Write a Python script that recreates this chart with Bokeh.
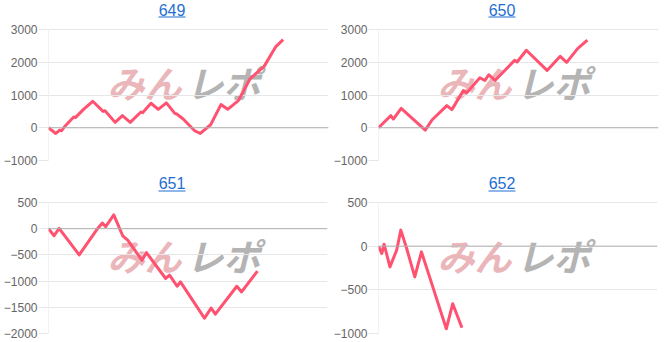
from bokeh.plotting import figure
from bokeh.layouts import column, row
from bokeh.models import Label, BoxAnnotation, Span, FixedTicker, Range1d
from bokeh.embed import file_html
from bokeh.resources import INLINE

titles = ["649", "650", "651", "652"]

x_649 = [0, 2.6, 4.0, 4.7, 5.7, 9.0, 9.6, 12.5, 15.8, 19.5, 20.2, 23.8, 26.4, 29.2, 33.0, 33.6,
         36.6, 39.2, 42.1, 45.1, 45.8, 48.1, 52.2, 54.2, 57.9, 61.6, 64.0, 67.8, 72.0, 77.0, 81.1, 83.8]
y_649 = [0, -174, -72, -92, 31, 330, 310, 560, 809, 500, 520, 164, 369, 164, 480, 460,
         748, 563, 758, 440, 420, 266, -92, -174, 92, 707, 563, 829, 1495, 1874, 2468, 2693]

x_650 = [0, 4.4, 5.3, 8.1, 16.7, 19.1, 24.4, 26.2, 30.3, 31.5, 36.2, 38.0, 39.4, 41.6,
         48.6, 49.5, 52.8, 60.2, 64.9, 67.2, 71.1, 74.6]
y_650 = [0, 369, 266, 594, -72, 236, 676, 553, 1137, 1065, 1526, 1444, 1618, 1444,
         2058, 2007, 2365, 1751, 2181, 1997, 2417, 2673]

x_651 = [0, 2.0, 3.8, 11.0, 17.2, 19.3, 20.5, 23.4, 26.6, 28.4, 33.5, 35.1, 42.0, 43.4,
         46.1, 47.3, 52.1, 55.9, 58.3, 59.8, 67.5, 69.2, 74.9]
y_651 = [0, -135, 6, -501, -26, 109, 39, 263, -135, -218, -603, -456, -950, -886,
         -1098, -1014, -1400, -1708, -1515, -1631, -1098, -1207, -809]

x_652 = [0, 1.2, 2.0, 4.1, 6.5, 8.0, 10.1, 13.0, 15.4, 18.3, 24.3, 26.6, 29.9]
y_652 = [0, -84, 23, -237, -46, 184, -27, -352, -65, -352, -946, -659, -935]

ticks_top = [-1000, 0, 1000, 2000, 3000]
ticks_651 = [-2000, -1500, -1000, -500, 0, 500]
ticks_652 = [-1000, -500, 0, 500]

LINE = "#ff5271"
GRID = "#e6e6e6"
BLUE = "#1f6fd1"


def panel(title, xs, ys, ticks, width, bl, br, bt, bb, title_y, ul_y, frame_h=131):
    lo, hi = ticks[0], ticks[-1]
    # frame extends to the top of the panel so the title sits inside it
    top = hi + (hi - lo) * bt / frame_h
    p = figure(width=width, height=bt + frame_h + bb, output_backend="svg",
               toolbar_location=None, x_range=Range1d(0, 100),
               y_range=Range1d(lo, top), x_axis_location=None,
               min_border_left=bl, min_border_right=br, min_border_top=0,
               min_border_bottom=bb)
    p.outline_line_color = None
    p.xgrid.visible = False
    p.ygrid.grid_line_color = GRID
    ax = p.yaxis[0]
    ax.ticker = FixedTicker(ticks=ticks)
    ax.axis_line_color = None
    ax.major_tick_out = 10
    ax.major_tick_in = 0
    ax.major_tick_line_color = GRID
    ax.minor_tick_line_color = None
    ax.major_label_standoff = 1
    ax.major_label_text_font = "Liberation Sans"
    ax.major_label_text_font_size = "12px"
    ax.major_label_text_color = "#666666"

    # watermark
    p.add_layout(Label(x=59, y=52, x_units="screen", y_units="screen", text="みん",
                       text_font="Noto Sans CJK JP", text_font_style="bold italic",
                       text_font_size="37px", text_color="#ebb6b9", level="image"))
    p.add_layout(Label(x=138, y=52, x_units="screen", y_units="screen", text="レポ",
                       text_font="Noto Sans CJK JP", text_font_style="bold italic",
                       text_font_size="37px", text_color="#b4b4b4", level="image"))

    # y axis line between first and last tick
    p.segment(x0=[0], y0=[lo], x1=[0], y1=[hi], line_color=GRID, line_width=1)
    p.add_layout(Span(location=0, dimension="width", line_color="#b0b0b0", line_width=1))
    p.line(xs, ys, line_color=LINE, line_width=3, line_join="round")

    # title (link style)
    p.add_layout(Label(x=123.5, y=frame_h + title_y, x_units="screen", y_units="screen",
                       text=title, text_align="center", text_baseline="alphabetic",
                       text_font="Liberation Sans", text_font_size="16px",
                       text_color=BLUE))
    p.add_layout(BoxAnnotation(left=110, right=137, bottom=frame_h + ul_y, top=frame_h + ul_y + 1,
                               left_units="screen", right_units="screen",
                               bottom_units="screen", top_units="screen",
                               fill_color=BLUE, fill_alpha=1, line_color=None))
    return p


p1 = panel(titles[0], x_649, y_649, ticks_top, 330, 46, 2, 29, 11, 20, 12)
p2 = panel(titles[1], x_650, y_650, ticks_top, 337, 46, 9, 29, 11, 20, 12)
p3 = panel(titles[2], x_651, y_651, ticks_651, 330, 45, 3, 31, 9, 19.5, 11)
p4 = panel(titles[3], x_652, y_652, ticks_652, 337, 45, 10, 31, 9, 19.5, 11)

layout = column(row(p1, p2), row(p3, p4))
open("out.html", "w").write(file_html(layout, INLINE))
